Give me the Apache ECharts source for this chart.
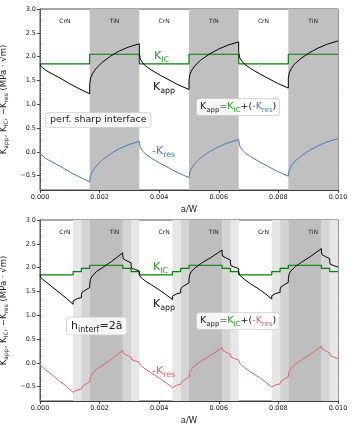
<!DOCTYPE html>
<html>
<head>
<meta charset="utf-8">
<script src="https://cdn.jsdelivr.net/npm/echarts@6/dist/echarts.min.js"></script>
<style>
html, body { margin: 0; padding: 0; background: #fff; }
#chart { width: 353px; height: 430px; }
</style>
</head>
<body>
<div id="chart"></div>
<script>
// layers (a/W)
var layerEdges = [0, 0.001667, 0.003333, 0.005, 0.006667, 0.008333, 0.01]
var layerNames = ['CrN', 'TiN', 'CrN', 'TiN', 'CrN', 'TiN']
var interfaceLines = [0.001667, 0.003333, 0.005, 0.006667, 0.008333]
var topTiN = [[0.001667, 0.003333], [0.005, 0.006667], [0.008333, 0.01]]
var botLight = [[0.001111, 0.001389], [0.003056, 0.003333], [0.004444, 0.004722], [0.006389, 0.006667], [0.007778, 0.008056], [0.009722, 0.01]]
var botMedium = [[0.001389, 0.001667], [0.002778, 0.003056], [0.004722, 0.005], [0.006111, 0.006389], [0.008056, 0.008333], [0.009444, 0.009722]]
var botDark = [[0.001667, 0.002778], [0.005, 0.006111], [0.008333, 0.009444]]

// top: perfectly sharp interface
var topX = [
	0, 0.00003, 0.0001, 0.0002, 0.0004, 0.0007, 0.001, 0.0013, 0.001667,
	0.001667, 0.001697, 0.001767, 0.001867, 0.002067, 0.002367, 0.002667, 0.002967, 0.003333,
	0.003333, 0.003363, 0.003433, 0.003533, 0.003733, 0.004033, 0.004333, 0.004633, 0.005,
	0.005, 0.00503, 0.0051, 0.0052, 0.0054, 0.0057, 0.006, 0.0063, 0.006667,
	0.006667, 0.006697, 0.006767, 0.006867, 0.007067, 0.007367, 0.007667, 0.007967, 0.008333,
	0.008333, 0.008363, 0.008433, 0.008533, 0.008733, 0.009033, 0.009333, 0.009633, 0.01
]
var topKic = [
	1.85, 1.85, 1.85, 1.85, 1.85, 1.85, 1.85, 1.85, 1.85,
	2.05, 2.05, 2.05, 2.05, 2.05, 2.05, 2.05, 2.05, 2.05,
	1.85, 1.85, 1.85, 1.85, 1.85, 1.85, 1.85, 1.85, 1.85,
	2.05, 2.05, 2.05, 2.05, 2.05, 2.05, 2.05, 2.05, 2.05,
	1.85, 1.85, 1.85, 1.85, 1.85, 1.85, 1.85, 1.85, 1.85,
	2.05, 2.05, 2.05, 2.05, 2.05, 2.05, 2.05, 2.05, 2.05
]
var topKapp = [
	1.85, 1.80, 1.76, 1.71, 1.64, 1.54, 1.43, 1.33, 1.22,
	1.42, 1.55, 1.65, 1.74, 1.87, 2.01, 2.12, 2.20, 2.27,
	2.07, 1.95, 1.88, 1.81, 1.72, 1.61, 1.51, 1.41, 1.31,
	1.51, 1.63, 1.72, 1.81, 1.93, 2.06, 2.16, 2.24, 2.31,
	2.11, 1.98, 1.91, 1.84, 1.75, 1.64, 1.54, 1.44, 1.34,
	1.54, 1.66, 1.75, 1.84, 1.95, 2.08, 2.18, 2.26, 2.33
]
var topKres = [
	0.00, -0.05, -0.09, -0.14, -0.21, -0.31, -0.42, -0.52, -0.63,
	-0.63, -0.50, -0.40, -0.31, -0.18, -0.04, 0.07, 0.15, 0.22,
	0.22, 0.10, 0.03, -0.04, -0.13, -0.24, -0.34, -0.44, -0.54,
	-0.54, -0.42, -0.33, -0.24, -0.12, 0.01, 0.11, 0.19, 0.26,
	0.26, 0.13, 0.06, -0.01, -0.10, -0.21, -0.31, -0.41, -0.51,
	-0.51, -0.39, -0.30, -0.21, -0.10, 0.03, 0.13, 0.21, 0.28
]

// bottom: graded interface, h_interf = 2a
var botX = [
	0, 0.00003, 0.0001, 0.0002, 0.0004, 0.0007, 0.0009, 0.001111, 0.001111, 0.00113, 0.00125, 0.001389, 0.001389, 0.00141, 0.00153, 0.001667,
	0.001667, 0.00169, 0.00175, 0.0019, 0.0021, 0.0024, 0.002778, 0.002778, 0.0028, 0.00292, 0.003056, 0.003056, 0.003075, 0.0032, 0.003333,
	0.003333, 0.003363, 0.003433, 0.003533, 0.003733, 0.004033, 0.004233, 0.004444, 0.004444, 0.004463, 0.004583, 0.004722, 0.004722, 0.004743, 0.004863, 0.005,
	0.005, 0.005023, 0.005083, 0.005233, 0.005433, 0.005733, 0.006111, 0.006111, 0.006133, 0.006253, 0.006389, 0.006389, 0.006408, 0.006533, 0.006667,
	0.006667, 0.006697, 0.006767, 0.006867, 0.007067, 0.007367, 0.007567, 0.007778, 0.007778, 0.007797, 0.007917, 0.008056, 0.008056, 0.008077, 0.008197, 0.008333,
	0.008333, 0.008357, 0.008417, 0.008567, 0.008767, 0.009067, 0.009444, 0.009444, 0.009467, 0.009587, 0.009722, 0.009722, 0.009742, 0.009867, 0.01
]
var botKic = [
	1.85, 1.85, 1.85, 1.85, 1.85, 1.85, 1.85, 1.85, 1.917, 1.917, 1.917, 1.917, 1.983, 1.983, 1.983, 1.983,
	2.05, 2.05, 2.05, 2.05, 2.05, 2.05, 2.05, 1.983, 1.983, 1.983, 1.983, 1.917, 1.917, 1.917, 1.917,
	1.85, 1.85, 1.85, 1.85, 1.85, 1.85, 1.85, 1.85, 1.917, 1.917, 1.917, 1.917, 1.983, 1.983, 1.983, 1.983,
	2.05, 2.05, 2.05, 2.05, 2.05, 2.05, 2.05, 1.983, 1.983, 1.983, 1.983, 1.917, 1.917, 1.917, 1.917,
	1.85, 1.85, 1.85, 1.85, 1.85, 1.85, 1.85, 1.85, 1.917, 1.917, 1.917, 1.917, 1.983, 1.983, 1.983, 1.983,
	2.05, 2.05, 2.05, 2.05, 2.05, 2.05, 2.05, 1.983, 1.983, 1.983, 1.983, 1.917, 1.917, 1.917, 1.917
]
var botKapp = [
	1.85, 1.79, 1.75, 1.70, 1.60, 1.45, 1.35, 1.23, 1.30, 1.34, 1.35, 1.37, 1.43, 1.48, 1.53, 1.58,
	1.65, 1.75, 1.82, 1.92, 2.00, 2.13, 2.31, 2.24, 2.18, 2.14, 2.10, 2.04, 1.99, 1.96, 1.93,
	1.86, 1.81, 1.77, 1.72, 1.64, 1.52, 1.43, 1.33, 1.40, 1.44, 1.45, 1.47, 1.53, 1.58, 1.63, 1.68,
	1.75, 1.85, 1.92, 2.01, 2.10, 2.21, 2.37, 2.30, 2.24, 2.20, 2.16, 2.10, 2.04, 2.01, 1.98,
	1.91, 1.85, 1.80, 1.75, 1.66, 1.54, 1.45, 1.34, 1.41, 1.45, 1.46, 1.48, 1.54, 1.59, 1.64, 1.69,
	1.76, 1.86, 1.93, 2.02, 2.11, 2.23, 2.40, 2.33, 2.27, 2.23, 2.19, 2.13, 2.07, 2.04, 2.01
]
var botKres = [
	0.00, -0.06, -0.10, -0.15, -0.25, -0.40, -0.50, -0.62, -0.62, -0.58, -0.57, -0.55, -0.55, -0.50, -0.45, -0.40,
	-0.40, -0.30, -0.23, -0.13, -0.05, 0.08, 0.26, 0.26, 0.20, 0.16, 0.12, 0.12, 0.07, 0.04, 0.01,
	0.01, -0.04, -0.08, -0.13, -0.21, -0.33, -0.42, -0.52, -0.52, -0.48, -0.47, -0.45, -0.45, -0.40, -0.35, -0.30,
	-0.30, -0.20, -0.13, -0.04, 0.05, 0.16, 0.32, 0.32, 0.26, 0.22, 0.18, 0.18, 0.12, 0.09, 0.06,
	0.06, 0.00, -0.05, -0.10, -0.19, -0.31, -0.40, -0.51, -0.51, -0.47, -0.46, -0.44, -0.44, -0.39, -0.34, -0.29,
	-0.29, -0.19, -0.12, -0.03, 0.06, 0.18, 0.35, 0.35, 0.29, 0.25, 0.21, 0.21, 0.15, 0.12, 0.09
]

var FONT = 'DejaVu Sans'
var KIC_COLOR = '#008000'
var BLUE = '#3f80c0'
var RED = '#e06464'

function pairs(xs, ys) {
	var out = []
	for (var i = 0; i < xs.length; i++) out.push([xs[i], ys[i]])
	return out
}

function spans(list, color) {
	return list.map(function (s) {
		return [{ xAxis: s[0], itemStyle: { color: color } }, { xAxis: s[1] }]
	})
}

function layerLabels() {
	var out = []
	for (var i = 0; i < layerNames.length; i++) {
		out.push([{ xAxis: layerEdges[i], name: layerNames[i] }, { xAxis: layerEdges[i + 1] }])
	}
	return out
}

function xAxisOpt(idx) {
	return {
		type: 'value', gridIndex: idx, min: 0, max: 0.01, interval: 0.002,
		name: 'a/W', nameLocation: 'middle', nameGap: 15,
		nameTextStyle: { fontFamily: FONT, fontSize: 8.5, color: '#222' },
		axisLine: { onZero: false, lineStyle: { color: '#222', width: 0.8 } },
		axisTick: { length: 3, lineStyle: { color: '#222', width: 0.8 } },
		axisLabel: { fontFamily: FONT, fontSize: 6.5, color: '#222', margin: 4,
			formatter: function (v) { return v.toFixed(3) } },
		splitLine: { show: false }
	}
}

function yAxisOpt(idx) {
	return {
		type: 'value', gridIndex: idx, min: -0.8, max: 3.0, splitNumber: 8,
		name: '{m|K}{s|app}{m|, K}{s|IC}{m|, \u2212K}{s|res}{m| (MPa \u00b7 \u221am)}',
		nameLocation: 'middle', nameRotate: 90, nameGap: 22,
		nameTextStyle: {
			fontFamily: FONT, color: '#222',
			rich: {
				m: { fontFamily: FONT, fontSize: 8.5, lineHeight: 12, color: '#222' },
				s: { fontFamily: FONT, fontSize: 6, lineHeight: 6, verticalAlign: 'bottom', color: '#222' }
			}
		},
		axisLine: { show: true, onZero: false, lineStyle: { color: '#222', width: 0.8 } },
		axisTick: { show: true, length: 3, lineStyle: { color: '#222', width: 0.8 } },
		axisLabel: { fontFamily: FONT, fontSize: 6.5, color: '#222', margin: 4, showMinLabel: false,
			formatter: function (v) { return v < 0 ? '\u2212' + Math.abs(v).toFixed(1) : v.toFixed(1) } },
		splitLine: { show: false }
	}
}

function shadeSeries(idx, areas) {
	return {
		type: 'line', xAxisIndex: idx, yAxisIndex: idx, data: [], silent: true, z: 1,
		markArea: { silent: true, data: areas }
	}
}

function labelSeries(idx) {
	return {
		type: 'line', xAxisIndex: idx, yAxisIndex: idx, data: [], silent: true, z: 2,
		markArea: {
			silent: true,
			itemStyle: { color: 'rgba(0,0,0,0)' },
			label: { show: true, position: 'insideTop', distance: 9, fontFamily: FONT, fontSize: 6, color: '#222' },
			data: layerLabels()
		},
		markLine: {
			silent: true, symbol: ['none', 'none'],
			label: { show: false },
			lineStyle: { color: '#888', type: [1, 1.5], width: 0.8 },
			data: interfaceLines.map(function (v) { return { xAxis: v } })
		}
	}
}

function curve(idx, xs, ys, color, width, z) {
	return {
		type: 'line', xAxisIndex: idx, yAxisIndex: idx, data: pairs(xs, ys),
		showSymbol: false, symbol: 'none', silent: true, z: z,
		lineStyle: { color: color, width: width }
	}
}

function sub(x, y, main, subs, color, size) {
	return {
		type: 'text', x: x, y: y, z: 100,
		style: {
			text: '{m|' + main + '}{s|' + subs + '}',
			align: 'left', verticalAlign: 'middle',
			rich: {
				m: { fontFamily: FONT, fontSize: size, lineHeight: size + 5, fill: color },
				s: { fontFamily: FONT, fontSize: size * 0.72, lineHeight: size * 0.72, verticalAlign: 'bottom', fill: color }
			}
		}
	}
}

function formulaBox(x, y, resColor) {
	return {
		type: 'text', x: x, y: y, z: 100,
		style: {
			text: '{m|K}{s|app}{m|=}{g|K}{gs|IC}{m|+(}{r|-K}{rs|res}{m|)}',
			align: 'left', verticalAlign: 'middle',
			backgroundColor: 'rgba(255,255,255,0.85)', borderColor: '#d0d0d0', borderWidth: 0.8,
			borderRadius: 2.5, padding: [1, 3, 1, 3],
			rich: {
				m: { fontFamily: FONT, fontSize: 9.5, lineHeight: 14, fill: '#222' },
				s: { fontFamily: FONT, fontSize: 7, lineHeight: 7, verticalAlign: 'bottom', fill: '#222' },
				g: { fontFamily: FONT, fontSize: 9.5, lineHeight: 14, fill: '#22a022' },
				gs: { fontFamily: FONT, fontSize: 7, lineHeight: 7, verticalAlign: 'bottom', fill: '#22a022' },
				r: { fontFamily: FONT, fontSize: 9.5, lineHeight: 14, fill: resColor },
				rs: { fontFamily: FONT, fontSize: 7, lineHeight: 7, verticalAlign: 'bottom', fill: resColor }
			}
		}
	}
}

var option = {
	animation: false,
	backgroundColor: '#fff',
	grid: [
		{ left: 40, top: 9, width: 298, height: 181, outerBoundsMode: 'none', containLabel: false, show: true, borderColor: '#222', borderWidth: 0.8, backgroundColor: 'transparent' },
		{ left: 40, top: 220, width: 298, height: 181, outerBoundsMode: 'none', containLabel: false, show: true, borderColor: '#222', borderWidth: 0.8, backgroundColor: 'transparent' }
	],
	xAxis: [xAxisOpt(0), xAxisOpt(1)],
	yAxis: [yAxisOpt(0), yAxisOpt(1)],
	series: [
		shadeSeries(0, spans(topTiN, '#c0c0c0')),
		labelSeries(0),
		curve(0, topX, topKic, KIC_COLOR, 1.2, 5),
		curve(0, topX, topKapp, '#000', 1, 6),
		curve(0, topX, topKres, BLUE, 1, 6),
		shadeSeries(1, spans(botLight, '#e6e6e6').concat(spans(botMedium, '#d4d4d4'), spans(botDark, '#bebebe'))),
		labelSeries(1),
		curve(1, botX, botKic, KIC_COLOR, 1.2, 5),
		curve(1, botX, botKapp, '#000', 1, 6),
		curve(1, botX, botKres, RED, 1, 6)
	],
	graphic: [
		sub(154, 56, 'K', 'IC', '#22a022', 11),
		sub(153, 87, 'K', 'app', '#111', 11),
		sub(152, 151, '-K', 'res', BLUE, 11),
		{
			type: 'text', x: 46, y: 120, z: 100,
			style: {
				text: 'perf. sharp interface', align: 'left', verticalAlign: 'middle',
				fontFamily: FONT, fontSize: 9.5, fill: '#222',
				backgroundColor: 'rgba(255,255,255,0.85)', borderColor: '#d0d0d0', borderWidth: 0.8,
				borderRadius: 2.5, padding: [2, 4, 2, 4]
			}
		},
		formulaBox(197, 107, BLUE),
		sub(153, 267, 'K', 'IC', '#22a022', 11),
		sub(153, 304, 'K', 'app', '#111', 11),
		sub(152, 371, '-K', 'res', RED, 11),
		{
			type: 'text', x: 67, y: 326, z: 100,
			style: {
				text: '{m|h}{s|interf}{m|=2\u0101}', align: 'left', verticalAlign: 'middle',
				backgroundColor: 'rgba(255,255,255,0.85)', borderColor: '#d0d0d0', borderWidth: 0.8,
				borderRadius: 2.5, padding: [1, 4, 1, 4],
				rich: {
					m: { fontFamily: FONT, fontSize: 11, lineHeight: 15, fill: '#222' },
					s: { fontFamily: FONT, fontSize: 8, lineHeight: 8, verticalAlign: 'bottom', fill: '#222' }
				}
			}
		},
		formulaBox(197, 321, RED)
	]
}

var myChart = echarts.init(document.getElementById('chart'))
myChart.setOption(option)
</script>
</body>
</html>
